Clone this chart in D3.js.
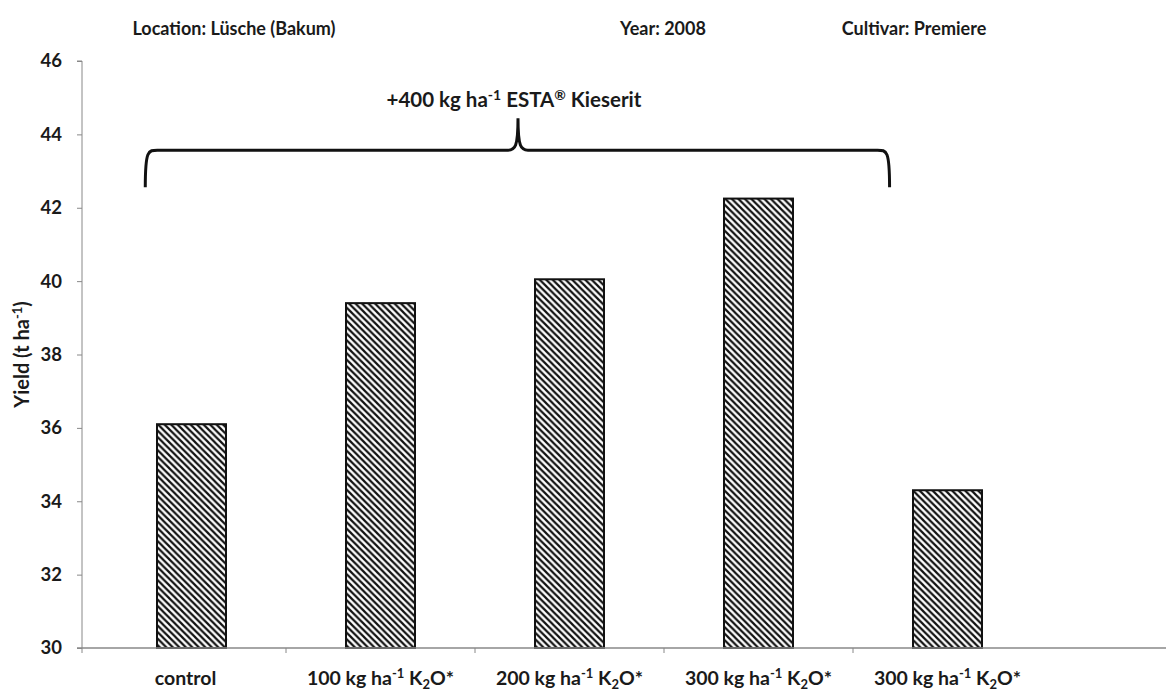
<!DOCTYPE html>
<html><head><meta charset="utf-8">
<script src="https://cdn.jsdelivr.net/npm/d3@7"></script>
<style>
body{margin:0;background:#fff;}
text{font-family:Lato,"Open Sans",sans-serif;font-weight:bold;fill:#1a1a1a;}
</style></head>
<body><svg id="c" width="1166" height="691"></svg>
<script>
const categories = ["c0","c1","c2","c3","c4"];
const labelMain = ["control","100 kg ha","200 kg ha","300 kg ha","300 kg ha"];
const hasUnit = [false,true,true,true,true];
const values = [36.1, 39.4, 40.05, 42.25, 34.3];
const yTicks = [30,32,34,36,38,40,42,44,46];
const titles = ["Location: Lüsche (Bakum)","Year: 2008","Cultivar: Premiere"];

const svg = d3.select("#c");
const axisX0 = 82, axisRight = 1166;
const x = d3.scaleBand().domain(categories).range([97, 1042]).paddingInner(0.635).paddingOuter(0.3175);
const y = d3.scaleLinear().domain([30,46]).range([648,61]);

// pattern
const defs = svg.append("defs");
const p = defs.append("pattern").attr("id","hatch").attr("patternUnits","userSpaceOnUse")
  .attr("width",6.5).attr("height",6.5);
p.append("rect").attr("width",6.5).attr("height",6.5).attr("fill","#fff");
p.append("path").attr("d","M0,0 L6.5,6.5 M-1,5.5 L1,7.5 M5.5,-1 L7.5,1")
  .attr("stroke","#111").attr("stroke-width",2.2);

// titles
const tx = [234, 663, 914];
svg.selectAll(".title").data(titles).enter().append("text")
  .attr("x",(d,i)=>tx[i]).attr("y",35).attr("text-anchor","middle")
  .attr("font-size",18).text(d=>d);

// y axis
const yAxis = d3.axisLeft(y).tickValues(yTicks).tickSize(5).tickPadding(15);
const gy = svg.append("g").attr("transform",`translate(${axisX0},0)`).call(yAxis);
gy.select(".domain").attr("stroke","#888").attr("d",`M-5,${y(46)}H0V${y(30)}`);
gy.selectAll(".tick line").attr("stroke","#888");
gy.selectAll(".tick text").attr("font-size",18.5).attr("font-family","Lato,'Open Sans',sans-serif").attr("font-weight","bold").attr("fill","#1a1a1a");

// y label
svg.append("text").attr("transform",`translate(29,${(y(30)+y(46))/2}) rotate(-90)`)
  .attr("text-anchor","middle").attr("font-size",20)
  .call(t=>{t.append("tspan").text("Yield (t ha");
    t.append("tspan").attr("dy",-7).attr("font-size",13).text("-1");
    t.append("tspan").attr("dy",7).text(")");});

// bars
svg.selectAll(".bar").data(values).enter().append("rect")
  .attr("x",(d,i)=>x(categories[i])).attr("width",x.bandwidth())
  .attr("y",d=>y(d)).attr("height",d=>y(30)-y(d))
  .attr("fill","url(#hatch)").attr("stroke","#111").attr("stroke-width",2);

// x axis line and ticks
svg.append("line").attr("x1",axisX0-5).attr("x2",axisRight).attr("y1",y(30)).attr("y2",y(30))
  .attr("stroke","#888").attr("stroke-width",1.3);
const step = x.step();
const boundaries = categories.slice(1).map(c=>x(c) - x.paddingInner()*step/2);
svg.selectAll(".xt").data([axisX0].concat(boundaries)).enter().append("line")
  .attr("x1",d=>d).attr("x2",d=>d).attr("y1",y(30)).attr("y2",y(30)+5).attr("stroke","#888");

// x labels
categories.forEach((c,i)=>{
  const t = svg.append("text").attr("x",x(c)+x.bandwidth()/2 - (i===0?6:0)).attr("y",685)
    .attr("text-anchor","middle").attr("font-size",19.5);
  t.append("tspan").text(labelMain[i]);
  if(hasUnit[i]){
    t.append("tspan").attr("dy",-7).attr("font-size",13).text("-1");
    t.append("tspan").attr("dy",7).text(" K");
    t.append("tspan").attr("dy",4).attr("font-size",13).text("2");
    t.append("tspan").attr("dy",-4).text("O*");
  }
});

// brace
const bl = x("c0") + x.bandwidth()*-0.17, br = x("c3") + x.bandwidth()*2.4;
const bm = 518;
const yb = y(42.56), yh = y(43.57), yp = y(44.44);
const path = `M${bl},${yb} C${bl},${yh} ${bl+3},${yh} ${bl+12},${yh} L${bm-10},${yh} C${bm-3},${yh} ${bm},${yh-3} ${bm},${yp}`+
  ` C${bm},${yh-3} ${bm+3},${yh} ${bm+10},${yh} L${br-12},${yh} C${br-3},${yh} ${br},${yh} ${br},${yb}`;
svg.append("path").attr("d",path).attr("fill","none").attr("stroke","#111").attr("stroke-width",3);

// annotation
const at = svg.append("text").attr("x",bm-4).attr("y",y(44.75)).attr("text-anchor","middle").attr("font-size",20.5);
at.append("tspan").text("+400 kg ha");
at.append("tspan").attr("dy",-7).attr("font-size",14).text("-1");
at.append("tspan").attr("dy",7).text(" ESTA");
at.append("tspan").attr("dy",-7).attr("font-size",14).text("®");
at.append("tspan").attr("dy",7).text(" Kieserit");
</script></body></html>
